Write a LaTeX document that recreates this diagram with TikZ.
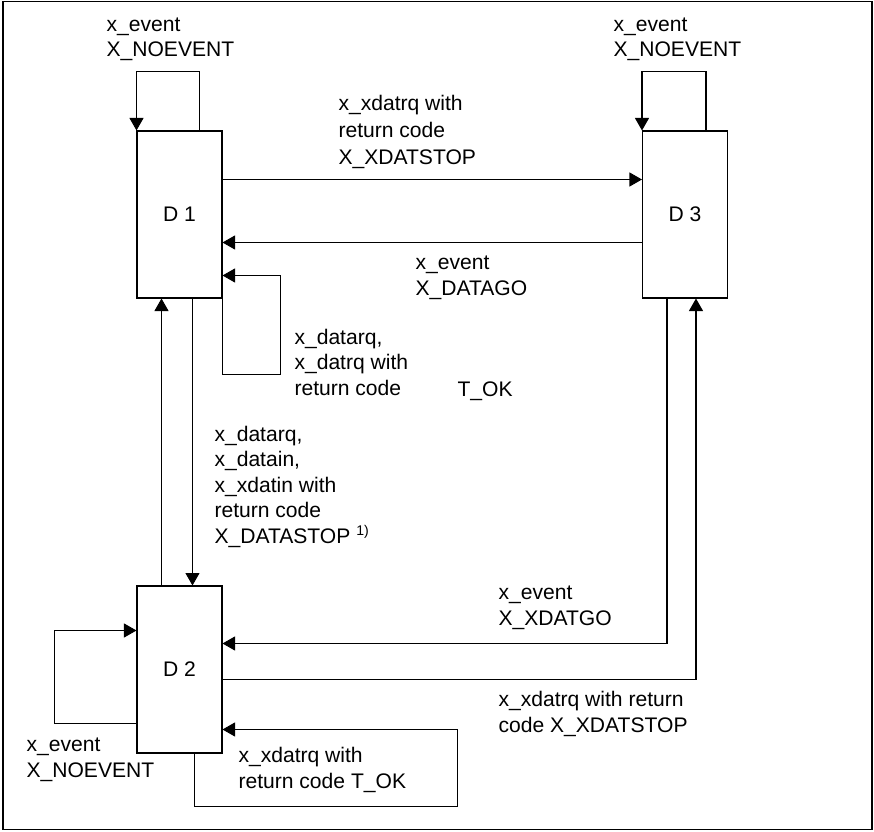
\documentclass[tikz,border=0pt]{standalone}
\usepackage{fontspec}
\setmainfont{Liberation Sans}
\usepackage{tikz}
\usetikzlibrary{positioning,arrows.meta,calc}

\begin{document}
\begin{tikzpicture}[
    x=0.02cm, y=-0.02cm,
    line width=0.6pt,
    state/.style={draw, minimum width=1.7cm, minimum height=3.34cm, inner sep=0pt,
                  font=\fontsize{12}{14.5}\selectfont},
    lbl/.style={anchor=base west, inner sep=0pt, align=left,
                font=\fontsize{12}{14.5}\selectfont},
    arr/.style={-{Triangle[length=0.25cm, width=0.28cm]}},
  ]
  \useasboundingbox (0,0) rectangle (874,831);
  \draw (3,1.5) rectangle (872,829.5);

  % the three states
  \node[state] (d1) at (179.5,214.5) {D 1};
  \node[state] (d3) at (685,214.5)   {D 3};
  \node[state] (d2) at (179.5,669.5) {D 2};

  % D1 <-> D3
  \draw[arr] ($(d1.north east)+(0,49)$) coordinate (a13) -- (a13 -| d3.west);
  \draw[arr] ($(d3.north west)+(0,112)$) coordinate (a31) -- (a31 -| d1.east);

  % self loops
  \draw[arr] ($(d1.north west)+(63,0)$) -- ++(0,-59) -| (d1.north west);
  \draw[arr] ($(d3.north west)+(64,0)$) -- ++(0,-59) -| (d3.north west);
  \draw[arr] (d1.south east) |- ++(58,76) |- ($(d1.north east)+(0,145)$);
  \draw[arr] ($(d2.north west)+(0,138)$) -| ++(-82,-93) -- ($(d2.north west)+(0,45)$);
  \draw[arr] ($(d2.south west)+(58,0)$) |- ++(263,53) |- ($(d2.north east)+(0,144)$);

  % D1 <-> D2
  \draw[arr] ($(d2.north west)+(25,0)$) -- ($(d1.south west)+(25,0)$);
  \draw[arr] ($(d1.south west)+(56,0)$) -- ($(d2.north west)+(56,0)$);

  % D3 <-> D2
  \draw[arr] ($(d3.south west)+(25,0)$) |- ($(d2.north east)+(0,58)$);
  \draw[arr] ($(d2.north east)+(0,94)$) -| ($(d3.south west)+(54,0)$);

  % labels (placed by the baseline of their last line)
  \node[lbl] (l1loop) at (106,57)  {x\_event\\X\_NOEVENT};
  \node[lbl] (l3loop) at (613,57)  {x\_event\\X\_NOEVENT};
  \node[lbl, font=\fontsize{12}{15.5}\selectfont]
             (l13)    at (338,165) {x\_xdatrq with\\return code\\X\_XDATSTOP};
  \node[lbl] (l31)    at (415,295) {x\_event\\X\_DATAGO};
  \node[lbl] (l1self) at (294,395) {x\_datarq,\\x\_datrq with\\return code};
  \node[lbl] (ltok)   at (457,396) {T\_OK};
  \node[lbl] (l12)    at (214,543) {x\_datarq,\\x\_datain,\\x\_xdatin with\\return code\\X\_DATASTOP \textsuperscript{1)}};
  \node[lbl] (l32)    at (498,625) {x\_event\\X\_XDATGO};
  \node[lbl] (l23)    at (498,732) {x\_xdatrq with return\\code X\_XDATSTOP};
  \node[lbl] (l2loop) at (26,777)  {x\_event\\X\_NOEVENT};
  \node[lbl] (l2self) at (238,788) {x\_xdatrq with\\return code T\_OK};
\end{tikzpicture}
\end{document}
